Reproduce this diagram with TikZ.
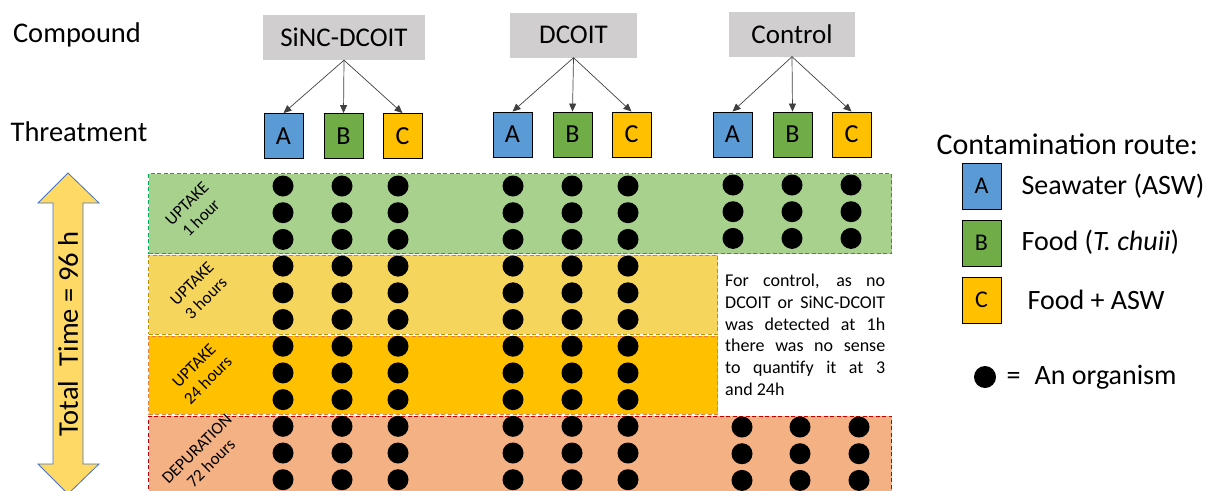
\documentclass[tikz,border=0pt]{standalone}
\usepackage{fontspec}
\setmainfont{Carlito}
\usetikzlibrary{arrows.meta, positioning}
\definecolor{boxGray}{HTML}{D0CECE}
\definecolor{routeA}{HTML}{5B9BD5}
\definecolor{routeB}{HTML}{70AD47}
\definecolor{routeC}{HTML}{FFC000}
\definecolor{bandGreen}{HTML}{A9D18E}
\definecolor{lineGreen}{HTML}{00B050}
\definecolor{bandYellow}{HTML}{F6D55C}
\definecolor{lineYellow}{HTML}{BF9000}
\definecolor{bandOrange}{HTML}{FFC000}
\definecolor{lineOrange}{HTML}{ED7D31}
\definecolor{bandSalmon}{HTML}{F4B183}
\definecolor{lineRed}{HTML}{C00000}
\definecolor{arrowFill}{HTML}{FFD966}
\definecolor{arrowEdge}{HTML}{4472C4}

\begin{document}
\begin{tikzpicture}[
    x=1pt, y=-1pt,
    compound/.style={rectangle, fill=boxGray, inner sep=0pt, minimum height=45pt,
                     font=\fontsize{27}{32}\selectfont},
    route/.style={rectangle, draw=black, line width=0.8pt, inner sep=0pt,
                  minimum width=39pt, minimum height=45pt, font=\fontsize{26}{30}\selectfont},
    key/.style={route, minimum height=46pt, font=\fontsize{24}{28}\selectfont},
    link/.style={-{Triangle[length=8pt,width=7pt]}, line width=0.7pt, black!75},
    band/.style={rectangle, anchor=north west, inner sep=0pt, line width=1.1pt,
                 dash pattern=on 4pt off 2.5pt},
    phase/.style={rotate=45, align=center, font=\fontsize{17}{20}\selectfont},
    title/.style={font=\fontsize{28.5}{32}\selectfont},
    entry/.style={anchor=west, font=\fontsize{28}{32}\selectfont},
    organism/.style={black}
  ]
    \useasboundingbox (0,0) rectangle (1217,490);

    % row titles
    \node[title] (comp) at (77,35) {Compound};
    \node[title] (treat) at (79,132) {Threatment};

    % compounds and their treatments
    \node[compound, minimum width=162pt] (sinc) at (344,37.5) {SiNC-DCOIT};
    \node[compound, minimum width=127pt] (dcoit) at (573.5,35) {DCOIT};
    \node[compound, minimum width=126pt] (ctrl) at (792,34) {Control};
    \foreach \g/\cx/\cy in {sinc/343.5/136, dcoit/572.5/134.5, ctrl/792.5/134.5} {
      \node[route, fill=routeA] (\g A) at (\cx-60,\cy) {A};
      \node[route, fill=routeB] (\g B) at (\cx,\cy) {B};
      \node[route, fill=routeC] (\g C) at (\cx+59,\cy) {C};
      \draw[link] (\g.south) -- (\g A.north);
      \draw[link] (\g.south) -- (\g B.north);
      \draw[link] (\g.south) -- (\g C.north);
    }

    % exposure phases
    \node[band, fill=bandGreen, draw=lineGreen, minimum width=743pt, minimum height=80pt] (upt1) at (148,173) {};
    \node[band, fill=bandYellow, draw=lineYellow, minimum width=569pt, minimum height=79pt] (upt3) at (148,254.5) {};
    \node[band, fill=bandOrange, draw=lineOrange, minimum width=569pt, minimum height=78pt] (upt24) at (148,335.5) {};
    \node[band, fill=bandSalmon, draw=lineRed, minimum width=743pt, minimum height=90pt] (depur) at (148,415.5) {};
    \node[phase] (lab1) at (194,211) {UPTAKE\\1 hour};
    \node[phase] (lab3) at (199,291) {UPTAKE\\3 hours};
    \node[phase] (lab24) at (201,373) {UPTAKE\\24 hours};
    \node[phase] (lab72) at (204,456) {DEPURATION\\72 hours};

    % organisms
    \foreach \x in {283,342,398,513,572,628} {
      \foreach \k in {0,...,11} {
        \fill[organism] (\x,186+26.7*\k) circle (10.5pt);
      }
    }
    \foreach \x in {733,792,851} {
      \foreach \k in {0,1,2} {
        \fill[organism] (\x,185+26.7*\k) circle (10.5pt);
      }
    }
    \foreach \x in {742,800,859} {
      \foreach \k in {0,1,2} {
        \fill[organism] (\x,427+26.7*\k) circle (10.5pt);
      }
    }

    \node[anchor=north west, text width=160pt, inner sep=0pt, align=justify,
          font=\fontsize{18}{21.7}\selectfont] (remark) at (725,274)
      {For control, as no\linebreak DCOIT or SiNC-DCOIT\linebreak was detected at 1h\linebreak
       there was no sense\linebreak to quantify it at 3\linebreak and 24h};

    % total time arrow
    \draw[fill=arrowFill, draw=arrowEdge, line width=0.8pt]
      (68,173) -- (99,203) -- (83,203) -- (83,464) -- (99,464) -- (68,494)
      -- (38,464) -- (53,464) -- (53,203) -- (38,203) -- cycle;
    \node[title, rotate=90] (total) at (68,334) {Total\; Time = 96 h};

    % legend
    \node[title, anchor=west, font=\fontsize{30}{34}\selectfont] (legtitle) at (933,144) {Contamination route:};
    \node[key, fill=routeA] (keyA) at (981.5,186) {A};
    \node[key, fill=routeB] (keyB) at (981.5,243) {B};
    \node[key, fill=routeC] (keyC) at (981.5,300) {C};
    \node[entry] (txtA) at (1018,186) {Seawater (ASW)};
    \node[entry] (txtB) at (1018,242) {Food (\textit{T. chuii})};
    \node[entry] (txtC) at (1024,300) {Food + ASW};
    \fill[organism] (985,377) circle (11pt);
    \node[entry] (txtD) at (1003,377) {=\; An organism};
  \end{tikzpicture}
\end{document}
